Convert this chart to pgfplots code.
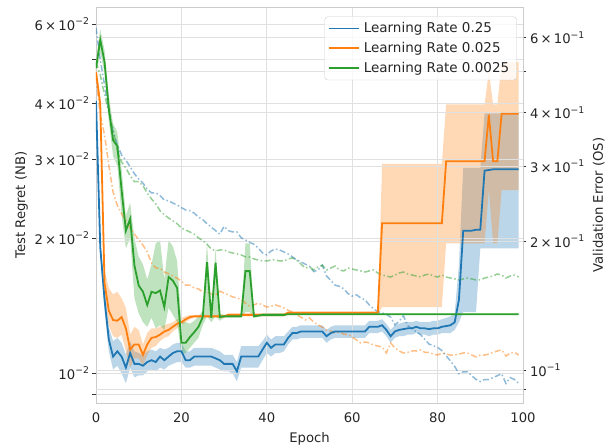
\documentclass[border=0pt]{standalone}
\usepackage{fontspec}
\setmainfont{DejaVu Sans}
\usepackage{pgfplots}
\pgfplotsset{compat=1.18}
\usepackage{pgfplotstable}
\usepgfplotslibrary{fillbetween}

\definecolor{tabblue}{HTML}{1F77B4}
\definecolor{taborange}{HTML}{FF7F0E}
\definecolor{tabgreen}{HTML}{2CA02C}

\newcommand{\fs}{\fontsize{13.2}{15.8}\selectfont}
\newcommand{\fsl}{\fontsize{13.5}{16}\selectfont}
\newcommand{\supx}[1]{\raisebox{0.42em}{\fontsize{9.3}{10}\selectfont −#1}}
\newcommand{\dec}[1]{10\supx{#1}}
\newcommand{\sci}[2]{#1\,×\,10\supx{#2}}

% solid lines: test regret (NB), left axis
\pgfplotstableread{
x y lo hi
0 0.0405 0.0398 0.0412
1 0.0191 0.0184 0.0198
2 0.0146 0.0138 0.0155
3 0.0119 0.0112 0.0127
4 0.0109 0.0102 0.0118
5 0.0112 0.0104 0.0120
6 0.0109 0.0100 0.0117
7 0.0103 0.0095 0.0110
8 0.0111 0.0103 0.0118
9 0.0105 0.0098 0.0112
10 0.0105 0.0099 0.0111
11 0.0104 0.0099 0.0110
12 0.0106 0.0101 0.0112
13 0.0107 0.0102 0.0113
14 0.0106 0.0101 0.0112
15 0.0109 0.0103 0.0114
16 0.0107 0.0102 0.0113
17 0.0109 0.0104 0.0114
18 0.0111 0.0105 0.0116
19 0.0112 0.0106 0.0117
20 0.0112 0.0106 0.0117
21 0.0107 0.0103 0.0112
22 0.0107 0.0103 0.0112
23 0.0109 0.0104 0.0114
24 0.0109 0.0104 0.0114
25 0.0109 0.0104 0.0114
26 0.0109 0.0104 0.0114
27 0.0109 0.0104 0.0114
28 0.0108 0.0103 0.0113
29 0.0107 0.0102 0.0112
30 0.0105 0.0101 0.0110
31 0.0105 0.0101 0.0110
32 0.0105 0.0100 0.0110
33 0.0101 0.0096 0.0106
34 0.0109 0.0103 0.0115
35 0.0109 0.0103 0.0115
36 0.0109 0.0103 0.0115
37 0.0109 0.0103 0.0115
38 0.0109 0.0103 0.0115
39 0.0113 0.0107 0.0118
40 0.0117 0.0111 0.0122
41 0.0114 0.0109 0.0119
42 0.0116 0.0111 0.0121
43 0.0116 0.0111 0.0121
44 0.0116 0.0112 0.0121
45 0.0120 0.0116 0.0124
46 0.0123 0.0119 0.0127
47 0.0123 0.0119 0.0127
48 0.0124 0.0120 0.0128
49 0.0124 0.0120 0.0128
50 0.0124 0.0120 0.0128
51 0.0124 0.0120 0.0128
52 0.0124 0.0120 0.0128
53 0.0124 0.0120 0.0128
54 0.0121 0.0117 0.0125
55 0.0123 0.0119 0.0127
56 0.0124 0.0120 0.0128
57 0.0124 0.0120 0.0128
58 0.0124 0.0120 0.0128
59 0.0124 0.0120 0.0128
60 0.0124 0.0120 0.0128
61 0.0124 0.0120 0.0128
62 0.0124 0.0120 0.0128
63 0.0124 0.0120 0.0128
64 0.0127 0.0123 0.0131
65 0.0127 0.0123 0.0131
66 0.0127 0.0123 0.0131
67 0.0128 0.0124 0.0132
68 0.0125 0.0121 0.0129
69 0.0121 0.0117 0.0125
70 0.0124 0.0120 0.0128
71 0.0125 0.0121 0.0129
72 0.01255 0.0121 0.0130
73 0.0126 0.0122 0.0130
74 0.0126 0.0122 0.0130
75 0.0127 0.0123 0.0131
76 0.0126 0.0122 0.0130
77 0.0126 0.0122 0.0130
78 0.01255 0.0121 0.0130
79 0.0126 0.0122 0.0131
80 0.0126 0.0122 0.0131
81 0.0127 0.0123 0.0132
82 0.01275 0.0123 0.0133
83 0.0128 0.0123 0.0134
84 0.0130 0.0125 0.0136
85 0.0146 0.0130 0.0175
86 0.0208 0.0137 0.0287
87 0.0208 0.0137 0.0287
88 0.0208 0.0137 0.0287
89 0.0209 0.0137 0.0287
90 0.0209 0.0190 0.0287
91 0.0283 0.0190 0.0380
92 0.0284 0.0190 0.0380
93 0.0285 0.0190 0.0380
94 0.0285 0.0190 0.0380
95 0.0285 0.0190 0.0380
96 0.0285 0.0190 0.0380
97 0.0285 0.0190 0.0380
98 0.0285 0.0190 0.0380
99 0.0285 0.0190 0.0380
}\tblue

\pgfplotstableread{
x y lo hi
0 0.0470 0.0450 0.0490
1 0.0398 0.0385 0.0412
2 0.0159 0.0150 0.0170
3 0.0138 0.0128 0.0155
4 0.01315 0.0121 0.0150
5 0.0131 0.0120 0.0152
6 0.01335 0.0122 0.0147
7 0.0126 0.0112 0.0140
8 0.0113 0.0103 0.0122
9 0.0116 0.0108 0.0127
10 0.0116 0.0108 0.0125
11 0.0110 0.0104 0.0116
12 0.0116 0.0110 0.0123
13 0.0120 0.0114 0.0126
14 0.01205 0.0115 0.0126
15 0.0122 0.0118 0.0127
16 0.0124 0.0120 0.0128
17 0.0125 0.0121 0.0129
18 0.0127 0.0124 0.0130
19 0.0129 0.0126 0.0132
20 0.0130 0.0128 0.0133
21 0.0132 0.0130 0.0134
22 0.01335 0.0132 0.0135
23 0.0134 0.0133 0.0135
24 0.0134 0.0133 0.0135
25 0.0134 0.0133 0.0135
26 0.0134 0.0133 0.0135
27 0.0134 0.0133 0.0135
28 0.0134 0.0133 0.0135
29 0.0134 0.0133 0.0135
30 0.0134 0.0133 0.0135
31 0.0135 0.0134 0.0136
32 0.0135 0.0134 0.0136
33 0.0135 0.0134 0.0136
34 0.0135 0.0134 0.0136
35 0.0135 0.0134 0.0136
36 0.0135 0.0134 0.0136
37 0.0135 0.0134 0.0136
38 0.0135 0.0134 0.0136
39 0.0135 0.0134 0.0136
40 0.0135 0.0134 0.0136
41 0.0135 0.0134 0.0136
42 0.0135 0.0134 0.0136
43 0.0135 0.0134 0.0136
44 0.0135 0.0134 0.0136
45 0.01365 0.01355 0.01375
46 0.01365 0.01355 0.01375
47 0.01365 0.01355 0.01375
48 0.01365 0.01355 0.01375
49 0.01365 0.01355 0.01375
50 0.01365 0.01355 0.01375
51 0.01365 0.01355 0.01375
52 0.01365 0.01355 0.01375
53 0.01365 0.01355 0.01375
54 0.01365 0.01355 0.01375
55 0.01365 0.01355 0.01375
56 0.01365 0.01355 0.01375
57 0.01365 0.01355 0.01375
58 0.01365 0.01355 0.01375
59 0.01365 0.01355 0.01375
60 0.01365 0.01355 0.01375
61 0.01365 0.01355 0.01375
62 0.01365 0.01355 0.01375
63 0.01365 0.01355 0.01375
64 0.01365 0.01355 0.01375
65 0.01365 0.01355 0.01375
66 0.01365 0.01355 0.01375
67 0.0216 0.01405 0.0293
68 0.0216 0.01405 0.0293
69 0.0216 0.01405 0.0293
70 0.0216 0.01405 0.0293
71 0.0216 0.01405 0.0293
72 0.0216 0.01405 0.0293
73 0.0216 0.01405 0.0293
74 0.0216 0.01405 0.0293
75 0.0216 0.01405 0.0293
76 0.0216 0.01405 0.0293
77 0.0216 0.01405 0.0293
78 0.0216 0.01405 0.0293
79 0.0216 0.01405 0.0293
80 0.0216 0.01405 0.0293
81 0.0216 0.01405 0.0293
82 0.0297 0.0195 0.0398
83 0.0297 0.0195 0.0398
84 0.0297 0.0195 0.0398
85 0.0297 0.0195 0.0398
86 0.0297 0.0195 0.0398
87 0.0297 0.0195 0.0398
88 0.0297 0.0195 0.0398
89 0.0297 0.0195 0.0398
90 0.0297 0.0195 0.0398
91 0.0297 0.0195 0.0398
92 0.0377 0.0256 0.0470
93 0.0297 0.0195 0.0398
94 0.0297 0.0195 0.0398
95 0.0379 0.0256 0.0494
96 0.0379 0.0256 0.0494
97 0.0379 0.0256 0.0494
98 0.0379 0.0256 0.0494
99 0.0379 0.0256 0.0494
}\torange

\pgfplotstableread{
x y lo hi
0 0.0479 0.0460 0.0500
1 0.0554 0.0520 0.0585
2 0.0494 0.0465 0.0525
3 0.0390 0.0365 0.0415
4 0.0331 0.0305 0.0360
5 0.0321 0.0290 0.0345
6 0.0256 0.0225 0.0285
7 0.0208 0.0190 0.0225
8 0.0221 0.0200 0.0240
9 0.0174 0.0147 0.0200
10 0.0157 0.0136 0.0182
11 0.0152 0.0130 0.0175
12 0.0142 0.0127 0.0162
13 0.0152 0.0133 0.0175
14 0.0151 0.0126 0.0195
15 0.0153 0.0128 0.0198
16 0.01405 0.0125 0.0162
17 0.0164 0.0140 0.0198
18 0.0161 0.0135 0.0192
19 0.0155 0.0130 0.0178
20 0.0117 0.0110 0.0130
21 0.0117 0.0111 0.0130
22 0.01205 0.0114 0.0129
23 0.01235 0.0117 0.0131
24 0.0127 0.0120 0.0134
25 0.01335 0.0128 0.0138
26 0.0177 0.0134 0.0195
27 0.0133 0.0130 0.0137
28 0.01765 0.0134 0.0190
29 0.01335 0.0131 0.0136
30 0.0134 0.0133 0.0135
31 0.0134 0.0133 0.0135
32 0.0134 0.0133 0.0135
33 0.0134 0.0133 0.0135
34 0.0134 0.0133 0.0135
35 0.0169 0.0137 0.0195
36 0.0169 0.0137 0.0195
37 0.0134 0.0133 0.0135
38 0.01345 0.01335 0.01355
39 0.0135 0.0134 0.0136
40 0.0135 0.0134 0.0136
41 0.0135 0.0134 0.0136
42 0.0135 0.0134 0.0136
43 0.0135 0.0134 0.0136
44 0.0135 0.0134 0.0136
45 0.01355 0.0135 0.0136
46 0.01355 0.0135 0.0136
47 0.01355 0.0135 0.0136
48 0.01355 0.0135 0.0136
49 0.01355 0.0135 0.0136
50 0.01355 0.0135 0.0136
51 0.01355 0.0135 0.0136
52 0.01355 0.0135 0.0136
53 0.01355 0.0135 0.0136
54 0.01355 0.0135 0.0136
55 0.01355 0.0135 0.0136
56 0.01355 0.0135 0.0136
57 0.01355 0.0135 0.0136
58 0.01355 0.0135 0.0136
59 0.01355 0.0135 0.0136
60 0.01355 0.0135 0.0136
61 0.01355 0.0135 0.0136
62 0.01355 0.0135 0.0136
63 0.01355 0.0135 0.0136
64 0.01355 0.0135 0.0136
65 0.01355 0.0135 0.0136
66 0.01355 0.0135 0.0136
67 0.01355 0.0135 0.0136
68 0.01355 0.0135 0.0136
69 0.01355 0.0135 0.0136
70 0.01355 0.0135 0.0136
71 0.01355 0.0135 0.0136
72 0.01355 0.0135 0.0136
73 0.01355 0.0135 0.0136
74 0.01355 0.0135 0.0136
75 0.01355 0.0135 0.0136
76 0.01355 0.0135 0.0136
77 0.01355 0.0135 0.0136
78 0.01355 0.0135 0.0136
79 0.01355 0.0135 0.0136
80 0.01355 0.0135 0.0136
81 0.01355 0.0135 0.0136
82 0.01355 0.0135 0.0136
83 0.01355 0.0135 0.0136
84 0.01355 0.0135 0.0136
85 0.01355 0.0135 0.0136
86 0.01355 0.0135 0.0136
87 0.01355 0.0135 0.0136
88 0.01355 0.0135 0.0136
89 0.01355 0.0135 0.0136
90 0.01355 0.0135 0.0136
91 0.01355 0.0135 0.0136
92 0.01355 0.0135 0.0136
93 0.01355 0.0135 0.0136
94 0.01355 0.0135 0.0136
95 0.01355 0.0135 0.0136
96 0.01355 0.0135 0.0136
97 0.01355 0.0135 0.0136
98 0.01355 0.0135 0.0136
99 0.01355 0.0135 0.0136
}\tgreen

% dash-dot lines: validation error (OS), right axis
\pgfplotstableread{
x b o g
0 0.632 0.483 0.526
1 0.532 0.3955 0.491
2 0.465 0.355 0.441
3 0.402 0.302 0.402
4 0.361 0.261 0.365
5 0.3365 0.243 0.3275
6 0.319 0.232 0.307
7 0.310 0.224 0.297
8 0.299 0.215 0.285
9 0.288 0.208 0.276
10 0.280 0.202 0.276
11 0.274 0.196 0.270
12 0.265 0.189 0.2597
13 0.260 0.178 0.2515
14 0.260 0.1735 0.245
15 0.256 0.173 0.236
16 0.250 0.1696 0.2307
17 0.249 0.168 0.227
18 0.246 0.166 0.2234
19 0.2435 0.164 0.220
20 0.240 0.1616 0.215
21 0.237 0.158 0.2127
22 0.236 0.158 0.2105
23 0.233 0.1556 0.208
24 0.228 0.1548 0.2038
25 0.225 0.1523 0.201
26 0.220 0.1523 0.197
27 0.216 0.1507 0.192
28 0.212 0.150 0.190
29 0.208 0.153 0.191
30 0.217 0.1514 0.191
31 0.212 0.150 0.189
32 0.2105 0.1483 0.188
33 0.2105 0.1475 0.187
34 0.204 0.146 0.186
35 0.2016 0.1435 0.184
36 0.199 0.141 0.1839
37 0.197 0.142 0.182
38 0.193 0.1435 0.181
39 0.188 0.142 0.180
40 0.186 0.1404 0.180
41 0.190 0.141 0.181
42 0.192 0.142 0.181
43 0.191 0.141 0.180
44 0.189 0.1397 0.180
45 0.187 0.138 0.182
46 0.184 0.1367 0.183
47 0.181 0.1345 0.181
48 0.179 0.133 0.177
49 0.177 0.131 0.1733
50 0.175 0.1324 0.1743
51 0.170 0.1295 0.1715
52 0.1715 0.1275 0.1743
53 0.176 0.126 0.176
54 0.166 0.124 0.1715
55 0.162 0.1234 0.1733
56 0.158 0.122 0.1752
57 0.157 0.1227 0.1715
58 0.155 0.1214 0.1706
59 0.151 0.121 0.1733
60 0.149 0.1195 0.1724
61 0.150 0.1176 0.1715
62 0.1475 0.1157 0.1706
63 0.146 0.1163 0.1696
64 0.142 0.1157 0.1706
65 0.139 0.1144 0.1715
66 0.137 0.1138 0.1687
67 0.136 0.1132 0.1669
68 0.135 0.1096 0.166
69 0.133 0.1157 0.1651
70 0.1275 0.1126 0.1669
71 0.130 0.1108 0.1687
72 0.134 0.1096 0.1696
73 0.127 0.110 0.1678
74 0.125 0.1108 0.1669
75 0.123 0.1108 0.166
76 0.121 0.1114 0.1651
77 0.118 0.110 0.1669
78 0.115 0.110 0.1678
79 0.114 0.109 0.166
80 0.113 0.1084 0.1651
81 0.111 0.1096 0.1669
82 0.108 0.109 0.1651
83 0.105 0.1084 0.1642
84 0.102 0.1084 0.1634
85 0.098 0.109 0.1625
86 0.099 0.1096 0.1634
87 0.099 0.1096 0.1642
88 0.097 0.1084 0.1634
89 0.095 0.1073 0.1625
90 0.094 0.1084 0.1625
91 0.095 0.1084 0.1642
92 0.095 0.109 0.1651
93 0.096 0.110 0.166
94 0.097 0.1108 0.1678
95 0.098 0.1114 0.1669
96 0.093 0.1078 0.1642
97 0.096 0.1096 0.166
98 0.095 0.110 0.1669
99 0.093 0.1084 0.1651
}\tdash

\pgfplotsset{
  cmnax/.style={
    width=427pt, height=396pt, scale only axis,
    at={(0,0)}, anchor=south west,
    xmin=0, xmax=100,
    /pgf/number format/assume math mode=true,
    tick label style={font=\fs, text=black!85},
    label style={font=\fs, text=black!85},
    tick align=outside, major tick length=3.5pt,
    grid style={black!12, line width=0.8pt},
  },
  dd/.style={line width=1.5pt, opacity=0.5, dash pattern=on 6pt off 2.5pt on 1.5pt off 2.5pt},
  sl/.style={line width=1.8pt},
}

\begin{document}
\begin{tikzpicture}
% left axis: frame, x axis, left ticks, grid
\begin{axis}[ymode=log, cmnax,
  ymin=0.00859, ymax=0.06556,
  axis line style={black!20, line width=0.8pt},
  xtick={0,20,40,60,80,100},
  xticklabels={0,20,40,60,80,100},
  xtick pos=bottom, ytick pos=left,
  xtick style={draw=none},
  ytick style={black!80, line width=0.8pt},
  xticklabel style={yshift=-2.5pt},
  ytick={0.009,0.01,0.02,0.03,0.04,0.05,0.06},
  yticklabels={{},{\dec{2}},{\sci{2}{2}},{\sci{3}{2}},{\sci{4}{2}},{},{\sci{6}{2}}},
  minor ytick={},
  xmajorgrids=true, ymajorgrids=true,
  xlabel={Epoch},
  ylabel={Test Regret (NB)},
  xlabel style={at={(axis description cs:0.5,-0.0985)}, anchor=base},
  ylabel style={at={(axis description cs:-0.166,0.5)}, anchor=base},
]
\addplot[draw=none, forget plot] coordinates {(0,0.01)};
\end{axis}
% right axis: dash-dot validation error
\begin{axis}[ymode=log, cmnax,
  axis y line*=right, axis x line=none,
  ymin=0.0837, ymax=0.708,
  axis line style={black!20, line width=0.8pt},
  ytick style={black!80, line width=0.8pt},
  ytick={0.09,0.1,0.2,0.3,0.4,0.5,0.6},
  yticklabels={{},{\dec{1}},{\sci{2}{1}},{\sci{3}{1}},{\sci{4}{1}},{},{\sci{6}{1}}},
  minor ytick={},
  ymajorgrids=true,
  ylabel={Validation Error (OS)},
  ylabel style={at={(axis description cs:1.187,0.5)}, anchor=base},
]
\addplot[dd, tabblue, forget plot] table[x=x, y=b]{\tdash};
\addplot[dd, taborange, forget plot] table[x=x, y=o]{\tdash};
\addplot[dd, tabgreen, forget plot] table[x=x, y=g]{\tdash};
\end{axis}
% solid lines with bands on top (left scale)
\begin{axis}[ymode=log, cmnax, ymin=0.00859, ymax=0.06556, hide axis]
\addplot[name path=bh, draw=none, forget plot] table[x=x, y=hi]{\tblue};
\addplot[name path=bl, draw=none, forget plot] table[x=x, y=lo]{\tblue};
\addplot[tabblue, fill opacity=0.3, draw=none, forget plot] fill between[of=bh and bl];
\addplot[name path=oh, draw=none, forget plot] table[x=x, y=hi]{\torange};
\addplot[name path=ol, draw=none, forget plot] table[x=x, y=lo]{\torange};
\addplot[taborange, fill opacity=0.3, draw=none, forget plot] fill between[of=oh and ol];
\addplot[name path=gh, draw=none, forget plot] table[x=x, y=hi]{\tgreen};
\addplot[name path=gl, draw=none, forget plot] table[x=x, y=lo]{\tgreen};
\addplot[tabgreen, fill opacity=0.3, draw=none, forget plot] fill between[of=gh and gl];
\addplot[sl, tabblue, forget plot] table[x=x, y=y]{\tblue};
\addplot[sl, taborange, forget plot] table[x=x, y=y]{\torange};
\addplot[sl, tabgreen, forget plot] table[x=x, y=y]{\tgreen};
\end{axis}
% legend on top
\begin{axis}[ymode=log, cmnax, ymin=0.00859, ymax=0.06556, hide axis,
  legend style={at={(rel axis cs:1,1)}, anchor=north east, xshift=-6.3pt, yshift=-9.5pt,
    draw=black!20, rounded corners=3pt, fill=white, fill opacity=0.8, text opacity=1,
    draw opacity=1, inner xsep=3pt, inner ysep=2pt, row sep=0pt,
    nodes={font=\fsl, text=black!85, inner ysep=4pt, inner xsep=4.3pt}},
  legend cell align=left,
  legend image post style={line width=1.8pt},
  legend image code/.code={\draw[line width=1.8pt, #1] (0pt,0pt) -- (30pt,0pt);},
]
\addlegendimage{color=tabblue, line width=1.8pt}
\addlegendentry{Learning Rate 0.25}
\addlegendimage{color=taborange, line width=1.8pt}
\addlegendentry{Learning Rate 0.025}
\addlegendimage{color=tabgreen, line width=1.8pt}
\addlegendentry{Learning Rate 0.0025}
\addplot[draw=none, forget plot] coordinates {(0,0.01)};
\end{axis}
\pgfresetboundingbox
\path (0,0) ++(-96pt,-43pt) rectangle ++(606pt,446pt);
\end{tikzpicture}
\end{document}
